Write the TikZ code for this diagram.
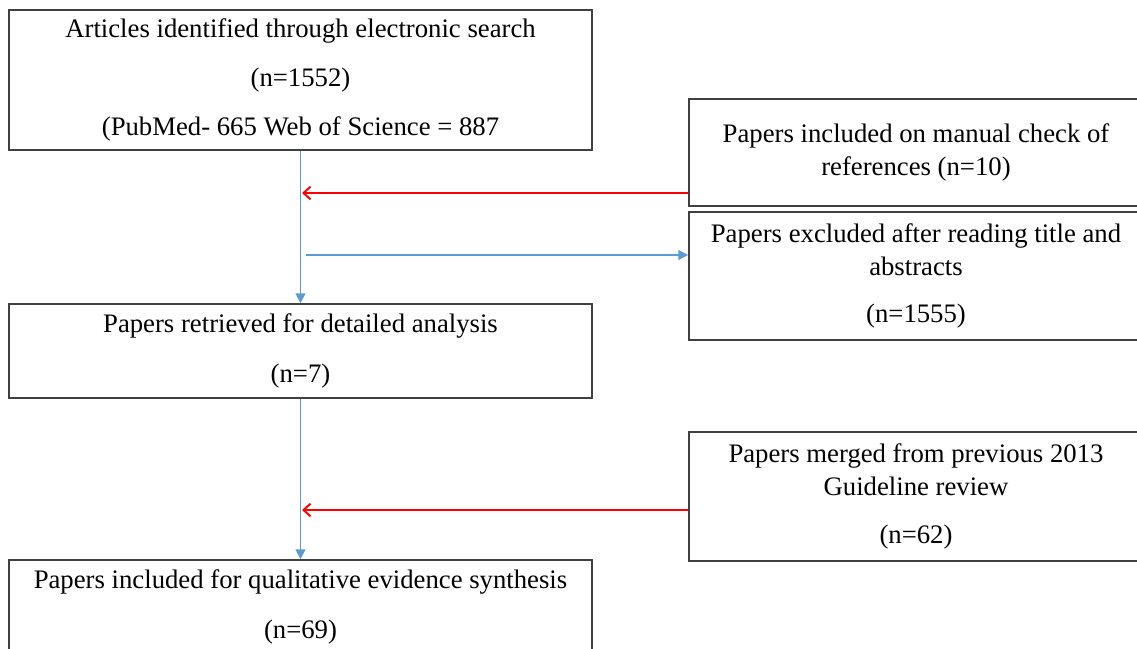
\documentclass[tikz,border=0pt]{standalone}
\usepackage{fontspec}
\setmainfont{Liberation Serif}
\usepackage{tikz}
\usetikzlibrary{arrows.meta,positioning}
\usepackage{xcolor}
\definecolor{flowblue}{RGB}{91,155,213}
\definecolor{flowred}{RGB}{255,0,0}
\definecolor{boxgray}{RGB}{64,64,64}
\tikzstyle{stagebox} = [rectangle, draw=boxgray, line width=1.1pt, inner sep=0pt, align=center, minimum width=14.575cm, font=\fontsize{19}{23.5}\selectfont]
\tikzstyle{sidebox} = [stagebox, minimum width=11.35cm]
\tikzstyle{flowarrow} = [line width=1pt, color=flowblue, -{Triangle[length=7pt,width=7pt]}]
\tikzstyle{addarrow} = [line width=1.4pt, color=flowred, -{Straight Barb[length=5pt,width=9pt]}]

\begin{document}
\begin{tikzpicture}[x=0.025cm, y=-0.025cm]
\clip (0,0) rectangle (1137,649);

% Main stages
\node (search) [stagebox, minimum height=3.5cm] at (300.5,80) {Articles identified through electronic search\\[11.5pt] (n=1552)\\[11.5pt] (PubMed- 665 Web of Science = 887};
\node (retrieved) [stagebox, minimum height=2.35cm] at (300.5,351) {Papers retrieved for detailed analysis\\[12pt] (n=7)};
\node (included) [stagebox, minimum height=2.35cm] at (300.5,607) {Papers included for qualitative evidence synthesis\\[12pt] (n=69)};

% Side boxes
\node (manual) [sidebox, minimum height=2.675cm] at (916,152.5) {Papers included on manual check of\\references (n=10)};
\node (excluded) [sidebox, minimum height=3.2cm] at (916,276) {Papers excluded after reading title and\\abstracts\\[10pt] (n=1555)};
\node (merged) [sidebox, minimum height=3.225cm] at (916,496.5) {Papers merged from previous 2013\\Guideline review\\[11pt] (n=62)};

% Flow
\draw[flowarrow] (search) -- (retrieved);
\draw[flowarrow] (retrieved) -- (included);

\coordinate (manualin) at (302,193);
\coordinate (excout) at (306,255);
\coordinate (mergedin) at (302,510);

\draw[addarrow] (manualin -| manual.west) -- (manualin);
\draw[flowarrow] (excout) -- (excout -| excluded.west);
\draw[addarrow] (mergedin -| merged.west) -- (mergedin);
\end{tikzpicture}
\end{document}
